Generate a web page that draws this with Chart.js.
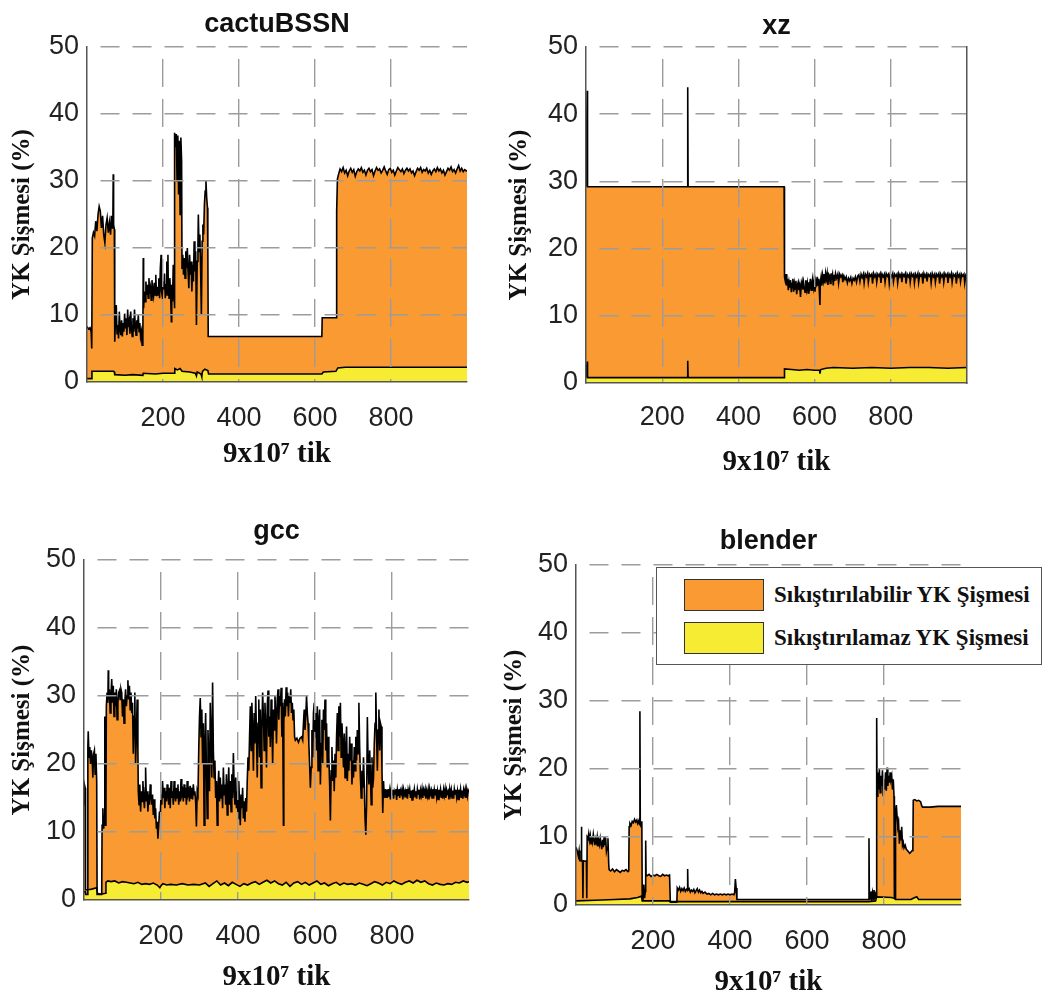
<!DOCTYPE html>
<html><head><meta charset="utf-8">
<script src="https://cdn.jsdelivr.net/npm/chart.js@4.4.1/dist/chart.umd.min.js"></script>
<style>
body{margin:0;background:#fff;width:1042px;height:1003px;overflow:hidden;position:relative}
.panel{position:absolute}
#legend{position:absolute;left:656px;top:567px;width:386px;height:98px;box-sizing:border-box;border:1.5px solid #555;background:#fff;font-family:"Liberation Serif","Times New Roman",serif;font-weight:bold;font-size:23px;color:#111}
.sw{position:absolute;left:27px;width:80px;height:32px;box-sizing:border-box;border:1.5px solid #333}
.lt{position:absolute;left:117px;line-height:32px;white-space:nowrap}
</style>
</head><body>
<div class="panel" style="left:0;top:0"><canvas id="c1" width="520" height="480"></canvas></div>
<div class="panel" style="left:495px;top:0"><canvas id="c2" width="547" height="480"></canvas></div>
<div class="panel" style="left:0;top:500px"><canvas id="c3" width="495" height="503"></canvas></div>
<div class="panel" style="left:495px;top:500px"><canvas id="c4" width="547" height="503"></canvas></div>
<div id="legend">
  <div class="sw" style="top:11px;background:#F99A33"></div><div class="lt" style="top:11px">Sıkıştırılabilir YK Şişmesi</div>
  <div class="sw" style="top:54px;background:#F7EC34"></div><div class="lt" style="top:54px">Sıkıştırılamaz YK Şişmesi</div>
</div>
<script>
// ---------------- data ----------------
const xTicks = [200, 400, 600, 800];
const yTicks = [0, 10, 20, 30, 40, 50];
const titles = ['cactuBSSN', 'xz', 'gcc', 'blender'];
const yLabel = 'YK Şişmesi (%)';
const xLabel = '9x10\u2077 tik';
const seriesNames = ['Sıkıştırılabilir YK Şişmesi', 'Sıkıştırılamaz YK Şişmesi'];

// [x, total bloat (%)] – top of the orange area
const cactusTotal = [[0,8.3],[4,7.9],[8,8.1],[11,7.5],[12,5.0],[13,5.0],[14,21.5],[17,22.3],[20,21.8],[23,24.0],[26,22.5],[29,25.0],[32,26.2],[35,25.5],[38,23.0],[41,24.8],[44,22.0],[47,20.8],[50,23.5],[53,24.5],[56,22.3],[59,23.8],[62,22.0],[64,24.8],[66,23.0],[68,23.5],[69,31.0],[70,23.5],[72,22.8],[73,6.0],[75,9.5],[77,11.5],[79,7.2],[81,8.5],[83,6.5],[85,10.5],[87,8.0],[89,7.0],[91,9.2],[93,6.8],[95,8.8],[97,7.5],[99,10.2],[101,8.0],[103,9.5],[105,7.0],[107,10.8],[109,8.2],[111,9.0],[113,7.2],[115,10.5],[117,8.0],[119,6.8],[121,9.5],[123,7.5],[125,10.8],[127,8.5],[129,7.0],[131,9.2],[133,8.0],[135,10.0],[137,7.5],[139,8.8],[141,6.8],[143,7.5],[145,5.5],[147,6.5],[148,18.5],[149,11.0],[151,13.5],[153,12.0],[155,15.0],[157,13.0],[159,14.5],[161,12.5],[163,15.5],[165,13.2],[167,14.0],[169,12.2],[171,15.2],[173,13.5],[175,12.8],[177,14.8],[179,13.0],[181,16.0],[183,12.8],[185,14.2],[187,13.0],[189,15.5],[191,12.5],[193,17.0],[195,19.0],[196,13.5],[198,12.8],[200,15.0],[202,13.8],[204,16.2],[206,12.5],[208,14.5],[210,18.0],[211,13.0],[213,19.0],[214,14.0],[216,12.5],[218,15.5],[220,13.0],[222,9.0],[223,14.5],[225,12.0],[227,17.5],[229,13.0],[230,11.0],[231,37.2],[233,36.0],[235,37.0],[237,30.0],[239,36.8],[241,28.0],[243,36.0],[245,25.0],[247,36.5],[249,33.0],[250,17.0],[252,19.0],[254,16.0],[256,18.5],[258,15.5],[260,19.5],[262,17.0],[264,20.0],[266,16.5],[268,14.0],[270,19.0],[272,16.0],[274,18.0],[276,13.5],[278,17.5],[280,15.0],[282,21.0],[284,16.5],[286,19.5],[288,8.5],[290,18.0],[292,20.5],[293,25.0],[295,19.5],[297,22.0],[299,17.0],[301,10.0],[303,21.0],[305,23.5],[307,22.0],[309,26.5],[311,28.5],[313,30.0],[315,27.5],[317,26.0],[318,20.0],[319,6.8],[618,6.8],[619,9.6],[656,9.6],[657,25.5],[659,30.3],[662,31.0],[666,31.8],[670,31.4],[674,32.0],[678,31.2],[682,31.6],[686,30.8],[690,31.5],[694,31.9],[698,31.3],[702,31.7],[706,30.7],[710,31.4],[714,31.8],[718,31.5],[722,32.0],[726,31.3],[730,31.6],[734,30.9],[738,31.6],[742,31.9],[746,31.4],[750,31.7],[754,30.8],[758,31.5],[762,32.0],[766,31.6],[770,31.8],[774,31.2],[778,31.6],[782,32.1],[786,31.5],[790,31.0],[794,31.7],[798,31.9],[802,31.3],[806,31.6],[810,30.9],[814,31.5],[818,32.0],[822,31.7],[826,31.4],[830,31.8],[834,31.1],[838,31.6],[842,31.9],[846,31.5],[850,31.8],[854,31.2],[858,31.5],[862,30.8],[866,31.4],[870,31.9],[874,31.6],[878,32.0],[882,31.3],[886,31.7],[890,31.5],[894,31.9],[898,31.2],[902,31.6],[906,31.0],[910,31.5],[914,31.8],[918,31.4],[922,32.0],[926,31.5],[930,31.8],[934,31.2],[938,31.6],[942,30.9],[946,31.4],[950,31.9],[954,31.6],[958,32.1],[962,31.4],[966,31.7],[970,31.2],[974,31.8],[978,32.3],[982,31.5],[986,31.9],[990,31.4],[994,31.7],[998,31.5],[1000,31.6]];
// [x, incompressible bloat (%)] – top of the yellow area
const cactusIncomp = [[0,0.5],[12,0.5],[13,1.6],[70,1.6],[72,1.5],[73,1.1],[100,1.0],[120,1.1],[147,1.0],[148,1.3],[180,1.2],[200,1.3],[230,1.3],[231,2.0],[238,1.8],[245,2.0],[250,1.6],[270,1.5],[285,1.3],[288,0.9],[290,1.5],[300,1.2],[302,0.8],[304,1.6],[310,1.9],[318,1.7],[320,1.2],[618,1.2],[622,1.5],[655,1.6],[660,2.1],[680,2.2],[1000,2.2]];

const xzTotal = [[0,29.2],[2,29.2],[3,43.5],[4,29.2],[266,29.2],[267,44.0],[268,29.2],[520,29.2],[521,15.8],[523,15.2],[525,16.2],[527,14.5],[529,15.5],[531,13.8],[533,15.0],[535,14.2],[537,15.3],[539,13.5],[541,14.8],[543,15.5],[545,13.6],[547,14.8],[549,14.0],[551,15.2],[553,13.2],[555,14.6],[557,15.0],[559,13.8],[561,14.5],[563,12.8],[565,14.7],[567,15.2],[569,13.9],[571,15.0],[573,14.2],[575,13.5],[577,15.3],[579,14.0],[581,14.8],[583,13.4],[585,15.0],[587,14.4],[589,15.5],[591,13.8],[593,14.9],[595,15.6],[597,14.2],[599,15.0],[601,13.6],[603,15.3],[605,14.8],[607,15.8],[609,14.5],[611,15.5],[613,13.0],[614,11.6],[615,15.0],[617,15.8],[619,14.5],[621,16.0],[623,15.2],[625,16.2],[627,14.8],[629,16.3],[631,15.5],[633,16.3],[635,14.6],[637,16.2],[639,16.0],[641,14.8],[643,16.3],[645,15.7],[647,16.2],[649,14.5],[651,16.1],[653,15.2],[655,16.3],[658,15.6],[661,16.2],[663,14.9],[666,16.2],[669,15.8],[672,16.1],[674,15.0],[677,15.9],[680,15.4],[683,15.8],[686,14.9],[689,15.6],[692,15.2],[695,15.7],[698,14.8],[701,15.6],[704,15.3],[707,15.8],[710,15.0],[713,15.9],[716,16.1],[719,15.1],[722,16.2],[725,15.7],[728,16.2],[730,14.9],[733,16.2],[736,15.8],[739,16.3],[741,15.0],[744,16.2],[747,15.9],[750,16.2],[752,14.8],[755,16.3],[758,15.8],[761,16.2],[763,15.0],[766,16.2],[769,15.9],[772,16.3],[774,14.9],[777,16.2],[780,15.8],[783,16.2],[785,15.0],[788,16.3],[791,15.9],[794,16.2],[796,14.8],[799,16.2],[802,15.8],[805,16.3],[807,15.1],[810,16.2],[813,15.9],[816,16.2],[818,14.9],[821,16.3],[824,15.8],[827,16.2],[829,15.0],[832,16.2],[835,15.9],[838,16.3],[840,14.8],[843,16.2],[846,15.8],[849,16.2],[851,15.0],[854,16.3],[857,15.9],[860,16.2],[862,14.9],[865,16.2],[868,15.8],[871,16.3],[873,15.0],[876,16.2],[879,15.9],[882,16.2],[884,14.8],[887,16.3],[890,15.8],[893,16.2],[895,15.1],[898,16.2],[901,15.9],[904,16.2],[906,14.9],[909,16.3],[912,15.8],[915,16.2],[917,15.0],[920,16.2],[923,15.9],[926,16.3],[928,14.8],[931,16.2],[934,15.8],[937,16.2],[939,15.0],[942,16.3],[945,15.9],[948,16.2],[950,14.9],[953,16.2],[956,15.8],[959,16.3],[961,15.0],[964,16.2],[967,15.9],[970,16.2],[972,14.8],[975,16.3],[978,15.8],[981,16.2],[983,15.1],[986,16.2],[989,15.9],[992,16.2],[994,14.9],[997,16.1],[1000,15.9]];
const xzIncomp = [[0,0.8],[2,0.8],[3,3.2],[4,0.8],[266,0.8],[267,3.3],[268,0.8],[520,0.8],[521,2.1],[540,2.0],[560,1.9],[580,2.0],[600,1.9],[613,1.9],[614,1.4],[616,2.0],[630,2.2],[650,2.3],[700,2.2],[750,2.3],[800,2.2],[850,2.3],[900,2.3],[950,2.2],[1000,2.3]];

const gccTotal = [[0,14],[1,17],[3,16.5],[4,1.5],[8,1.5],[10,22.5],[11,24.8],[13,21.0],[15,22.5],[17,20.0],[19,22.0],[21,21.0],[23,18.0],[25,21.5],[27,22.0],[29,18.5],[31,21.5],[33,17.5],[34,1.0],[46,0.8],[47,11.0],[49,13.5],[51,10.5],[53,12.0],[54,27.0],[55,11.0],[57,13.0],[58,28.5],[60,30.5],[62,29.0],[63,33.8],[64,29.5],[66,31.0],[68,27.5],[70,30.0],[72,32.5],[74,29.0],[76,31.5],[78,27.0],[80,30.5],[82,28.5],[84,31.0],[86,26.5],[88,29.0],[90,30.5],[92,30.8],[94,29.5],[96,31.0],[98,30.5],[100,27.0],[102,29.5],[104,26.0],[106,29.0],[108,31.0],[110,28.5],[112,30.0],[114,32.3],[116,29.5],[118,31.5],[120,28.0],[122,30.5],[124,27.5],[126,29.0],[128,21.5],[130,27.0],[132,30.5],[134,20.0],[136,24.0],[138,29.5],[140,22.0],[141,16.0],[143,14.0],[145,17.0],[147,13.0],[149,16.0],[151,14.5],[153,17.5],[155,15.0],[157,13.5],[159,16.5],[160,19.5],[162,14.5],[164,16.0],[166,13.0],[168,15.5],[170,14.0],[172,17.0],[174,15.5],[176,14.0],[178,15.5],[180,12.5],[182,14.8],[184,12.0],[186,13.5],[188,10.5],[190,11.5],[192,9.0],[194,11.0],[196,13.0],[198,12.0],[200,15.5],[202,14.0],[204,17.5],[206,15.0],[208,16.5],[210,13.5],[212,16.0],[214,14.5],[216,17.0],[218,15.5],[220,14.0],[222,16.5],[224,13.5],[226,17.5],[228,15.0],[230,16.0],[232,14.0],[234,17.5],[236,15.5],[238,14.5],[240,16.5],[242,15.0],[244,17.0],[246,14.0],[248,16.0],[250,14.5],[252,17.8],[254,15.5],[256,16.0],[258,14.5],[260,17.0],[262,15.0],[264,16.5],[266,14.0],[268,17.5],[270,15.5],[272,16.0],[274,14.5],[276,16.8],[278,15.0],[280,16.5],[282,14.8],[284,17.0],[286,15.5],[288,16.0],[290,14.5],[292,10.8],[294,16.0],[296,15.5],[298,22.0],[300,27.0],[302,29.7],[304,24.0],[306,28.0],[308,20.0],[310,26.0],[312,11.0],[314,23.0],[316,27.5],[318,19.0],[320,12.0],[322,25.0],[324,21.0],[326,16.0],[328,29.0],[330,24.0],[332,18.0],[334,32.0],[336,22.0],[338,18.0],[340,20.5],[342,15.0],[344,17.5],[346,11.0],[348,16.5],[350,19.0],[352,14.5],[354,18.0],[356,15.0],[358,17.0],[360,13.5],[362,19.5],[364,15.5],[366,17.0],[368,14.0],[370,18.5],[372,12.5],[374,16.0],[376,19.5],[378,14.0],[380,17.5],[382,13.0],[384,18.5],[386,15.0],[388,21.6],[390,16.5],[392,14.0],[394,18.0],[396,13.5],[398,16.0],[400,12.0],[402,17.5],[404,14.5],[406,11.0],[408,15.5],[410,13.5],[412,16.5],[414,12.0],[416,14.5],[418,11.5],[420,15.0],[422,13.0],[424,17.5],[426,21.0],[428,19.0],[430,24.0],[432,28.5],[434,22.0],[436,29.0],[438,25.0],[440,19.0],[442,27.5],[444,23.0],[446,30.0],[448,24.5],[450,18.0],[452,26.0],[454,29.5],[456,21.0],[458,28.0],[460,16.5],[462,25.0],[464,30.5],[466,27.0],[468,22.0],[470,29.0],[472,25.5],[474,19.5],[476,28.5],[478,30.8],[480,24.0],[482,27.0],[484,22.5],[486,29.5],[488,26.0],[490,20.0],[492,28.0],[494,25.0],[496,30.0],[498,27.5],[500,23.0],[502,29.5],[504,31.0],[506,26.5],[508,30.0],[510,28.5],[512,31.2],[514,24.0],[516,29.0],[518,11.0],[519,26.0],[521,29.5],[523,27.0],[525,31.3],[527,28.5],[529,30.5],[531,27.0],[533,30.0],[535,29.0],[537,31.0],[539,27.5],[541,29.0],[543,26.5],[545,28.0],[547,24.0],[549,23.5],[553,23.8],[557,23.2],[561,23.8],[565,24.0],[568,23.5],[570,26.0],[572,28.0],[574,25.0],[576,27.0],[578,30.0],[580,27.5],[582,26.0],[584,23.0],[586,20.0],[588,16.5],[590,19.5],[592,25.0],[594,21.0],[596,27.5],[598,29.0],[600,24.0],[602,27.5],[604,22.0],[606,28.5],[608,19.0],[610,26.5],[612,28.0],[614,17.0],[616,23.0],[618,26.5],[620,20.0],[622,28.0],[624,25.0],[626,29.5],[628,22.0],[630,26.0],[632,19.5],[634,24.0],[636,21.0],[638,17.0],[640,11.7],[642,19.0],[644,22.5],[646,17.5],[648,20.5],[650,16.0],[652,21.5],[654,18.0],[656,24.0],[658,27.5],[660,22.0],[662,28.5],[664,24.0],[666,29.0],[668,21.0],[670,26.0],[672,23.0],[674,19.5],[676,24.5],[678,18.0],[680,22.0],[682,25.5],[684,17.5],[686,21.5],[688,19.0],[690,24.0],[692,20.5],[694,23.0],[696,17.0],[698,20.5],[700,18.0],[702,22.5],[704,19.0],[706,24.0],[708,20.5],[710,25.0],[712,21.5],[714,29.0],[716,22.5],[718,18.0],[720,15.0],[722,19.0],[724,16.5],[726,21.0],[728,17.0],[730,12.0],[732,9.6],[734,14.0],[736,26.9],[738,20.0],[740,17.0],[742,22.0],[744,18.5],[746,14.0],[748,21.0],[750,16.5],[752,18.0],[754,23.0],[756,26.0],[758,30.5],[760,24.0],[762,19.0],[764,25.0],[766,28.0],[768,22.0],[770,26.0],[772,25.5],[774,19.0],[776,12.8],[778,17.5],[780,15.0],[782,16.3],[784,15.0],[786,16.2],[788,15.0],[790,16.3],[792,15.2],[794,16.1],[796,14.8],[798,16.3],[800,15.5],[802,16.2],[804,14.9],[806,16.0],[808,15.6],[810,16.3],[812,14.7],[814,16.2],[816,15.4],[818,16.3],[820,15.0],[822,16.1],[824,15.7],[826,16.3],[828,14.8],[830,16.2],[832,15.5],[834,16.0],[836,15.1],[838,16.3],[840,14.9],[842,16.2],[844,15.6],[846,16.3],[848,15.0],[850,16.1],[852,14.7],[854,16.2],[856,15.5],[858,16.3],[860,15.2],[862,16.0],[864,14.9],[866,16.3],[868,15.6],[870,16.2],[872,14.8],[874,16.1],[876,15.4],[878,16.3],[880,15.0],[882,16.2],[884,15.7],[886,16.3],[888,14.9],[890,16.0],[892,15.3],[894,16.2],[896,14.8],[898,16.3],[900,15.6],[902,16.1],[904,15.0],[906,16.3],[908,14.9],[910,16.2],[912,15.5],[914,16.3],[916,15.1],[918,16.0],[920,14.8],[922,16.2],[924,15.6],[926,16.3],[928,15.0],[930,16.1],[932,14.9],[934,16.2],[936,15.4],[938,16.3],[940,15.0],[942,16.2],[944,15.7],[946,16.0],[948,14.8],[950,16.3],[952,15.5],[954,16.2],[956,15.0],[958,16.1],[960,14.9],[962,16.3],[964,15.6],[966,16.2],[968,15.1],[970,16.0],[972,14.8],[974,16.2],[976,15.5],[978,16.3],[980,15.0],[982,16.1],[984,14.9],[986,16.2],[988,15.6],[990,16.3],[992,15.0],[994,16.2],[996,15.3],[998,16.1],[1000,15.8]];
const gccIncomp = [[0,1.2],[3,1.2],[4,0.8],[8,0.8],[10,1.5],[20,1.6],[33,1.8],[34,0.8],[46,0.8],[47,0.9],[56,1.0],[57,2.6],[62,2.8],[70,2.7],[80,2.8],[90,2.5],[100,2.7],[110,2.6],[120,2.5],[130,2.4],[140,2.6],[150,2.3],[160,2.4],[170,2.3],[180,2.5],[190,2.2],[197,1.8],[200,2.1],[205,2.4],[215,2.2],[225,2.3],[240,2.2],[255,2.4],[270,2.2],[285,2.3],[300,2.2],[315,2.5],[325,2.0],[335,2.4],[345,2.8],[355,2.2],[365,2.5],[375,2.1],[385,2.6],[395,2.3],[405,2.0],[415,2.4],[425,2.2],[435,2.5],[445,2.7],[455,2.3],[465,2.6],[475,2.9],[485,2.5],[495,2.8],[505,2.4],[515,2.2],[525,2.6],[535,2.0],[545,2.5],[555,2.7],[565,2.3],[575,2.6],[585,2.2],[595,2.5],[605,2.8],[615,2.3],[625,2.5],[635,2.1],[645,2.4],[655,2.6],[665,2.2],[675,2.5],[685,2.3],[695,2.4],[705,2.2],[715,2.5],[725,2.3],[735,2.1],[745,2.4],[755,2.7],[765,2.5],[775,2.2],[785,2.6],[795,2.4],[805,2.8],[815,2.5],[825,2.3],[835,2.6],[845,2.8],[855,2.5],[865,2.9],[875,2.6],[885,2.8],[895,2.4],[905,2.2],[915,2.5],[925,2.3],[935,2.2],[945,2.4],[955,2.3],[965,2.6],[975,2.5],[985,2.8],[995,2.6],[1000,2.7]];

const blenderTotal = [[0,8.5],[3,8.0],[6,7.2],[8,8.0],[10,6.5],[13,6.5],[14,11.5],[15,6.5],[17,6.3],[18,1.0],[19,6.5],[27,6.4],[28,1.0],[29,10.0],[31,9.8],[33,10.5],[35,9.5],[37,10.2],[39,9.0],[41,10.0],[43,9.3],[45,10.4],[47,9.6],[49,8.8],[51,9.7],[53,9.2],[55,10.0],[57,8.6],[59,9.5],[61,8.9],[63,9.8],[65,9.0],[67,8.2],[69,9.6],[71,8.5],[73,10.0],[75,8.8],[77,9.9],[79,7.9],[81,8.5],[83,9.8],[85,6.0],[86,5.2],[90,5.0],[95,5.3],[100,4.9],[105,5.2],[110,5.0],[115,4.8],[120,5.1],[125,5.0],[130,5.2],[135,4.9],[137,5.0],[138,11.5],[140,12.0],[143,11.7],[146,12.3],[149,12.1],[152,12.6],[155,12.2],[158,12.5],[160,12.0],[163,12.4],[165,11.8],[166,28.5],[167,12.0],[169,11.5],[171,12.3],[172,1.2],[174,0.8],[176,3.0],[178,1.0],[180,2.0],[181,9.5],[182,4.5],[185,4.3],[190,4.5],[195,4.2],[200,4.4],[205,4.3],[210,4.5],[215,4.3],[220,4.2],[225,4.5],[230,4.3],[235,4.4],[240,4.3],[243,4.4],[245,0.5],[262,0.5],[263,2.5],[266,2.2],[269,2.6],[272,2.0],[275,2.4],[278,2.1],[281,2.5],[284,2.0],[287,2.3],[289,2.2],[290,5.3],[291,2.2],[294,2.4],[297,1.9],[300,2.2],[303,2.0],[306,2.3],[309,1.8],[312,2.1],[315,2.4],[318,1.9],[321,2.2],[324,1.8],[327,2.0],[330,1.7],[335,1.9],[340,1.6],[345,1.7],[350,1.5],[355,1.7],[360,1.5],[365,1.6],[370,1.5],[375,1.6],[380,1.5],[385,1.6],[390,1.5],[395,1.6],[400,1.5],[405,1.6],[410,1.5],[412,1.8],[414,3.8],[416,2.5],[418,0.8],[760,0.8],[761,9.8],[762,1.5],[764,0.9],[766,2.0],[768,1.0],[770,1.8],[772,0.8],[774,2.2],[776,1.2],[778,1.6],[780,1.0],[781,27.5],[782,16.0],[784,19.5],[786,17.0],[788,20.0],[790,16.5],[792,19.0],[794,17.5],[796,19.8],[798,16.0],[800,18.5],[802,17.0],[804,19.5],[806,16.8],[808,20.2],[810,17.5],[812,19.0],[814,18.0],[816,19.5],[818,18.5],[820,19.0],[822,17.0],[824,18.5],[826,16.0],[827,1.2],[829,1.0],[830,13.5],[832,14.7],[834,13.0],[836,11.5],[838,12.0],[840,9.0],[842,11.0],[844,9.5],[846,11.5],[848,8.8],[850,9.2],[852,8.4],[855,8.8],[858,8.2],[861,8.0],[864,7.8],[867,7.6],[870,7.8],[873,8.0],[875,8.5],[876,15.4],[880,15.5],[885,15.3],[890,15.4],[895,15.2],[898,14.6],[900,14.4],[920,14.4],[940,14.5],[960,14.5],[980,14.5],[1000,14.5]];
const blenderIncomp = [[0,0.6],[50,0.7],[100,0.8],[140,0.9],[160,1.1],[170,1.3],[172,0.6],[243,0.6],[245,0.4],[262,0.4],[263,0.5],[418,0.5],[760,0.5],[778,0.6],[781,1.2],[820,1.1],[826,1.0],[830,0.8],[870,0.8],[876,1.0],[885,1.2],[890,0.8],[1000,0.8]];

// ---------------- drawing ----------------
const ORANGE = '#F99A33', YELLOW = '#F7EC34';
const SANS = '"Liberation Sans",Arial,sans-serif';
const SERIF = '"Liberation Serif","Times New Roman",serif';
const TICK_SIZE = 27, TITLE_SIZE = 27, YT_SIZE = 25, XT_SIZE = 29;
const toPts = arr => arr.map(p => ({x: p[0], y: p[1]}));

function makePanel(id, title, total, incomp, b, rightBorder) {
  const tickLH = TICK_SIZE * 1.2, titleLH = TITLE_SIZE * 1.2, yTitleLH = YT_SIZE * 1.2, xTitleLH = XT_SIZE * 1.2;
  const scales = {
    x: {
      type: 'linear', position: 'bottom', min: 0, max: 1000,
      afterBuildTicks: s => { s.ticks = xTicks.map(v => ({value: v})); },
      afterFit: s => { s.height = b.h - b.B; },
      grid: {color: '#9c9c9c', lineWidth: 1.4, drawTicks: false, z: 1},
      border: {display: true, color: '#555', width: 1.5, dash: [28, 12], dashOffset: 28, z: 2},
      ticks: {font: {family: SANS, size: TICK_SIZE}, color: '#222', padding: b.tickY - b.B - tickLH / 2, maxRotation: 0, z: 2},
      title: {display: true, text: xLabel, font: {family: SERIF, size: XT_SIZE, weight: 'bold'}, color: '#111',
              padding: {top: 0, bottom: b.h - b.xTitleY - xTitleLH / 2}}
    },
    xt: {
      type: 'linear', position: 'top', min: 0, max: 1000,
      afterFit: s => { s.height = b.T; },
      grid: {display: false}, border: {display: false}, ticks: {display: false},
      title: {display: true, text: title, font: {family: SANS, size: TITLE_SIZE, weight: 'bold'}, color: '#111',
              padding: {top: b.titleY - titleLH / 2, bottom: 0}}
    },
    y: {
      type: 'linear', position: 'left', min: 0, max: 50,
      afterBuildTicks: s => { s.ticks = yTicks.map(v => ({value: v})); },
      afterFit: s => { s.width = b.L; },
      grid: {color: c => (c.tick && c.tick.value === 0) ? 'rgba(0,0,0,0)' : '#9c9c9c', lineWidth: 1.4, drawTicks: false, z: 1},
      border: {display: true, color: '#555', width: 1.5, dash: [19, 13], dashOffset: 19, z: 2},
      ticks: {font: {family: SANS, size: TICK_SIZE}, color: '#222', padding: 8, z: 2},
      title: {display: true, text: yLabel, font: {family: SERIF, size: YT_SIZE, weight: 'bold'}, color: '#111',
              padding: {top: b.yTitleX - yTitleLH / 2, bottom: 0}}
    }
  };
  if (rightBorder) {
    scales.yr = {
      type: 'linear', position: 'right', min: 0, max: 50,
      afterFit: s => { s.width = 0; },
      grid: {display: false}, ticks: {display: false},
      border: {display: true, color: '#555', width: 1.5, z: 2}
    };
  }
  new Chart(document.getElementById(id), {
    type: 'line',
    data: {
      datasets: [
        {label: seriesNames[1], data: toPts(incomp), borderColor: '#000', borderWidth: 1.6,
         backgroundColor: YELLOW, fill: 'origin', pointRadius: 0, tension: 0, xAxisID: 'x', yAxisID: 'y'},
        {label: seriesNames[0], data: toPts(total), borderColor: '#000', borderWidth: 1.6,
         backgroundColor: ORANGE, fill: '-1', pointRadius: 0, tension: 0, xAxisID: 'x', yAxisID: 'y'}
      ]
    },
    options: {
      responsive: false, animation: false, events: [],
      layout: {padding: {left: 0, top: 0, bottom: 0, right: b.w - b.R}},
      plugins: {legend: {display: false}, tooltip: {enabled: false}, title: {display: false}},
      scales: scales
    }
  });
}

makePanel('c1', titles[0], cactusTotal, cactusIncomp,
  {w: 520, h: 480, L: 87, R: 467, T: 47, B: 382, yTitleX: 23, titleY: 25, tickY: 419, xTitleY: 455}, false);
makePanel('c2', titles[1], xzTotal, xzIncomp,
  {w: 547, h: 480, L: 91, R: 472, T: 47, B: 383, yTitleX: 25, titleY: 27, tickY: 418, xTitleY: 463}, true);
makePanel('c3', titles[2], gccTotal, gccIncomp,
  {w: 495, h: 503, L: 84, R: 469, T: 60, B: 400, yTitleX: 23, titleY: 32, tickY: 437, xTitleY: 478}, false);
makePanel('c4', titles[3], blenderTotal, blenderIncomp,
  {w: 547, h: 503, L: 81, R: 466, T: 65, B: 405, yTitleX: 20, titleY: 42, tickY: 442, xTitleY: 483}, false);
</script>
</body></html>
